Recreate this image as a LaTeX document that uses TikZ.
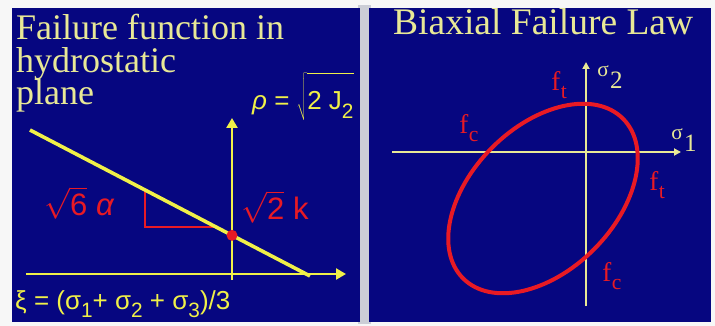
\documentclass[tikz,border=0pt]{standalone}
\usepackage{fix-cm}
\usepackage{fontspec}
\setmainfont{Liberation Serif}
\setsansfont{Liberation Sans}
\usepackage{graphicx}
\usepackage{xcolor}
\usepackage{tikz}
\usetikzlibrary{arrows.meta, positioning, calc}
\definecolor{FLBlue}{RGB}{6, 6, 128}
\definecolor{FLYellow}{RGB}{240, 240, 72}
\definecolor{FLCream}{RGB}{232, 232, 150}
\definecolor{FLRed}{RGB}{232, 26, 36}
\definecolor{FLFrame}{RGB}{204, 206, 214}
\newcommand{\lowsub}[1]{\raisebox{-.32em}{\scalebox{.8}{#1}}}
\newcommand{\fsub}[1]{f\kern.5pt\lowsub{#1}}
\newcommand{\sigsub}[1]{\raisebox{.3em}{\scalebox{.85}{σ}}\kern1.5pt\raisebox{-.15em}{#1}}
\tikzset{
  paneltitle/.style={font=\fontsize{36}{33}\selectfont, text=FLCream, inner sep=0pt, anchor=base west},
  bigaxis/.style={draw=FLYellow, line width=2.4pt, -{Triangle[width=11pt, length=10pt]}},
  smallaxis/.style={draw=FLCream, line width=2pt, -{Triangle[width=7pt, length=7pt]}},
  yellowmath/.style={font=\sffamily\fontsize{26}{30}\selectfont, text=FLYellow, inner sep=0pt},
  redmath/.style={font=\sffamily\fontsize{31}{34}\selectfont, text=FLRed, inner sep=0pt},
  redlabel/.style={font=\fontsize{27}{30}\selectfont, text=FLRed, inner sep=0pt},
  axislabel/.style={font=\fontsize{25}{30}\selectfont, text=FLCream, inner sep=0pt}
}

\begin{document}
\begin{tikzpicture}[x=1pt, y=-1pt]
    \useasboundingbox (0,0) rectangle (715,326);
    \fill[white!94!gray] (0,0) rectangle (715,326);
    \fill[FLFrame] (358,5) rectangle (371,324);
    \fill[FLBlue] (12,8) rectangle (360,322);
    \fill[FLBlue] (369,8) rectangle (711,322);

    % hydrostatic plane
    \node[paneltitle] (hydroline1) at (16,40) {Failure function in};
    \node[paneltitle] (hydroline2) at (16,72.5) {hydrostatic};
    \node[paneltitle] (hydroline3) at (16,105) {plane};
    \coordinate (xistart) at (26,274);
    \coordinate (xiend) at (346,274);
    \coordinate (rhostart) at (232,280);
    \coordinate (rhoend) at (232,118);
    \coordinate (meridianA) at (30,130);
    \coordinate (meridianB) at (310,276);
    \coordinate (slopetop) at ($(meridianA)!0.41!(meridianB)$);
    \coordinate (slopeend) at ($(meridianA)!0.664!(meridianB)$);
    \draw[FLRed, line width=1.6pt] (slopetop) |- (slopeend);
    \draw[bigaxis] (xistart) -- (xiend);
    \draw[bigaxis] (rhostart) -- (rhoend);
    \draw[FLYellow, line width=3.6pt] (meridianA) -- (meridianB);
    \fill[FLRed] (intersection of meridianA--meridianB and rhostart--rhoend) circle (5.5pt);
    \node[yellowmath, anchor=base west] (rholabel) at (252,110) {{\itshape ρ} = $\sqrt{\mbox{\rule{0pt}{34pt}2 J\lowsub{2}}}$};
    \node[yellowmath, anchor=base west] (xilabel) at (15,309) {ξ = (σ\lowsub{1}+ σ\lowsub{2} + σ\lowsub{3})/3};
    \node[redmath] (alphalabel) at (79,203) {$\sqrt{\mbox{6}}$ {\itshape α}};
    \node[redmath] (klabel) at (275,207) {$\sqrt{\mbox{2}}$ k};

    % biaxial law
    \node[paneltitle, font=\fontsize{37.5}{33}\selectfont] (biaxtitle) at (393,35) {Biaxial Failure Law};
    \coordinate (sonestart) at (392,152);
    \coordinate (soneend) at (681,152);
    \coordinate (stwostart) at (586,306);
    \coordinate (stwoend) at (586,62);
    \coordinate (ellcentre) at (543,198.5);
    \draw[smallaxis] (sonestart) -- (soneend);
    \draw[smallaxis] (stwostart) -- (stwoend);
    \draw[FLRed, line width=4pt, rotate around={45:(ellcentre)}] (ellcentre) ellipse [x radius=113pt, y radius=72pt];
    \node[axislabel] (sigmatwo) at (610,77) {\sigsub{2}};
    \node[axislabel] (sigmaone) at (684,140) {\sigsub{1}};
    \node[redlabel] (fttop) at (559,85) {\fsub{t}};
    \node[redlabel] (fcleft) at (469,128) {\fsub{c}};
    \node[redlabel] (ftright) at (657,185) {\fsub{t}};
    \node[redlabel] (fcbottom) at (612,276) {\fsub{c}};
  \end{tikzpicture}
\end{document}
